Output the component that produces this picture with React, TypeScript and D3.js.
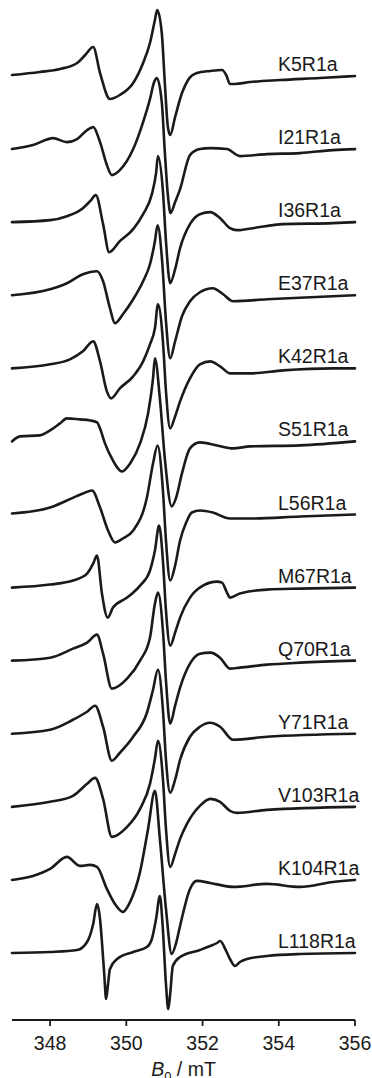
import React from 'react';
import * as d3 from 'd3';

// Spectrum labels (top to bottom)
const NAMES = ['K5R1a','I21R1a','I36R1a','E37R1a','K42R1a','S51R1a','L56R1a','M67R1a','Q70R1a','Y71R1a','V103R1a','K104R1a','L118R1a'];

// [B0 (mT), amplitude (a.u.)]
const K5 = [[347.00,1],[347.73,4],[348.26,7],[348.71,13],[348.92,21],[349.13,29],[349.31,3],[349.57,-23],[349.83,-19],[350.18,-7],[350.44,13],[350.62,33],[350.75,56],[350.81,66],[350.93,43],[351.01,-7],[351.09,-51],[351.15,-59],[351.28,-41],[351.46,-17],[351.62,-4],[351.85,3],[352.20,5],[352.51,6],[352.62,1],[352.72,-8],[352.85,-8],[353.25,-6],[354.03,-4],[355.08,-2],[356.00,0]];
const I21 = [[347.00,0],[347.55,4],[348.08,11],[348.44,7],[348.71,10],[348.97,19],[349.13,22],[349.31,7],[349.49,-16],[349.62,-26],[349.83,-21],[350.18,0],[350.44,27],[350.62,50],[350.73,67],[350.80,71],[350.93,47],[351.01,-3],[351.09,-46],[351.16,-64],[351.28,-53],[351.41,-40],[351.67,-6],[351.93,0],[352.20,1],[352.64,0],[352.98,-7],[353.69,-5],[354.56,-4],[355.42,-1],[356.00,0]];
const I36 = [[347.00,0],[348.00,2],[348.44,6],[348.86,14],[349.05,21],[349.20,27],[349.39,-2],[349.55,-30],[349.83,-19],[350.18,-7],[350.44,8],[350.67,28],[350.78,49],[350.83,66],[350.96,31],[351.04,-19],[351.15,-61],[351.28,-47],[351.41,-26],[351.67,-2],[351.93,8],[352.20,10],[352.46,4],[352.72,-6],[352.90,-8],[353.32,-6],[354.11,-2],[355.42,-1],[356.00,0]];
const E37 = [[347.00,0],[348.00,6],[348.44,12],[348.86,21],[349.23,24],[349.39,14],[349.57,-13],[349.70,-28],[349.91,-19],[350.18,-4],[350.44,14],[350.62,31],[350.75,54],[350.82,70],[350.94,34],[351.04,-26],[351.15,-63],[351.28,-46],[351.46,-21],[351.67,-6],[351.93,3],[352.27,7],[352.54,1],[352.80,-6],[353.69,-4],[355.42,-1],[356.00,0]];
const K42 = [[347.00,0],[348.00,4],[348.52,9],[348.86,17],[349.13,27],[349.31,7],[349.49,-23],[349.60,-30],[349.83,-20],[350.18,-8],[350.44,7],[350.62,24],[350.75,40],[350.83,64],[350.96,27],[351.04,-23],[351.15,-60],[351.28,-48],[351.41,-33],[351.67,-10],[351.93,4],[352.20,7],[352.46,2],[352.72,-5],[353.25,-5],[354.11,-2],[355.42,0],[356.00,0]];
const S51 = [[347.00,0],[347.21,5],[347.73,6],[348.00,11],[348.26,18],[348.44,23],[348.78,22],[349.05,21],[349.23,19],[349.31,13],[349.44,-2],[349.62,-17],[349.89,-30],[350.10,-22],[350.36,-2],[350.57,28],[350.70,63],[350.75,83],[350.88,43],[351.01,-17],[351.19,-65],[351.30,-57],[351.46,-32],[351.67,-7],[351.93,-1],[352.38,-4],[352.80,-7],[353.25,-5],[354.56,-4],[356.00,0]];
const L56 = [[347.00,1],[348.00,7],[348.44,14],[348.86,21],[349.10,24],[349.31,7],[349.52,-16],[349.70,-28],[349.91,-24],[350.18,-16],[350.54,17],[350.70,51],[350.82,69],[350.96,24],[351.04,-26],[351.15,-66],[351.28,-51],[351.41,-26],[351.57,-8],[351.72,2],[351.93,4],[352.27,2],[352.72,-4],[353.25,-4],[354.56,-2],[356.00,0]];
const M67 = [[347.00,0],[348.00,3],[348.60,7],[348.97,14],[349.13,24],[349.23,32],[349.36,-6],[349.51,-30],[349.65,-20],[350.02,-10],[350.36,2],[350.62,17],[350.75,37],[350.86,62],[350.96,27],[351.04,-23],[351.15,-58],[351.28,-45],[351.41,-30],[351.67,-10],[352.01,2],[352.38,6],[352.51,5],[352.64,-5],[352.72,-10],[352.98,-6],[353.69,-2],[354.56,-1],[356.00,0]];
const Q70 = [[347.00,0],[348.00,3],[348.60,12],[348.97,18],[349.23,26],[349.39,7],[349.62,-28],[350.02,-18],[350.36,0],[350.62,23],[350.75,57],[350.83,68],[350.96,30],[351.04,-20],[351.15,-63],[351.28,-45],[351.41,-27],[351.67,-3],[351.93,7],[352.20,8],[352.46,3],[352.72,-8],[352.98,-7],[353.69,-4],[354.56,-2],[356.00,0]];
const Y71 = [[347.00,0],[348.00,4],[348.60,14],[348.97,22],[349.18,28],[349.39,7],[349.62,-27],[349.83,-19],[350.18,-3],[350.54,21],[350.70,44],[350.83,64],[350.96,24],[351.04,-26],[351.15,-59],[351.28,-46],[351.41,-26],[351.67,-3],[351.93,7],[352.20,11],[352.46,7],[352.80,-6],[353.69,-3],[356.00,0]];
const V103 = [[347.00,0],[348.00,5],[348.60,11],[348.97,23],[349.18,29],[349.39,8],[349.62,-30],[350.02,-20],[350.36,-2],[350.62,23],[350.75,48],[350.83,66],[350.96,28],[351.04,-22],[351.15,-60],[351.28,-47],[351.41,-32],[351.59,-17],[351.93,1],[352.20,8],[352.46,5],[352.72,-4],[352.90,-6],[353.69,-3],[356.00,0]];
const K104 = [[347.00,0],[347.55,4],[348.00,11],[348.44,23],[348.78,14],[349.05,15],[349.23,13],[349.49,-9],[349.70,-24],[349.91,-32],[350.10,-22],[350.36,8],[350.57,51],[350.75,89],[350.88,41],[351.04,-29],[351.19,-74],[351.30,-64],[351.41,-46],[351.67,-9],[351.85,-1],[352.20,-3],[352.80,-7],[353.69,-4],[354.56,-7],[355.42,-2],[356.00,0]];
const L118 = [[347.00,0],[348.00,1],[348.71,3],[348.97,11],[349.13,29],[349.23,49],[349.31,34],[349.36,11],[349.42,-21],[349.47,-46],[349.52,-31],[349.57,-16],[349.76,-6],[350.18,1],[350.54,6],[350.67,14],[350.78,34],[350.88,57],[350.95,29],[351.04,-31],[351.10,-56],[351.15,-41],[351.22,-13],[351.41,-4],[351.93,3],[352.20,7],[352.38,10],[352.46,12],[352.62,2],[352.72,-6],[352.85,-13],[352.98,-9],[353.17,-6],[353.69,-3],[354.56,-1],[356.00,0]];

const SERIES = [K5, I21, I36, E37, K42, S51, L56, M67, Q70, Y71, V103, K104, L118];

const TICKS = [348, 350, 352, 354, 356];
const X_DOMAIN = [347, 356];

const FONT = "'Liberation Sans', Arial, Helvetica, sans-serif";
const INK = '#1a1a1a';

export default function App() {
  const W = 372, H = 1078;
  const x = d3.scaleLinear().domain(X_DOMAIN).range([12, 355]);
  const off = d3.scalePoint().domain(NAMES).range([76, 953]);
  const amp = d3.scaleLinear().domain([-100, 100]).range([100, -100]);
  const line = d3.line().x((d: any) => x(d[0])).y((d: any) => amp(d[1])).curve(d3.curveMonotoneX);
  const axisY = 1020;

  return (
    <svg width={W} height={H} style={{ position: 'absolute', left: 0, top: 0, background: '#fff' }}>
      <rect width={W} height={H} fill="#fff" />
      {SERIES.map((s, i) => (
        <g key={NAMES[i]} transform={`translate(0,${off(NAMES[i])})`}>
          <path d={line(s as any) || ''} fill="none" stroke={INK} strokeWidth={2.6} strokeLinejoin="round" strokeLinecap="round" />
          <text x={278} y={-5} fontFamily={FONT} fontSize={19.5} fill={INK}>{NAMES[i]}</text>
        </g>
      ))}
      <line x1={x(X_DOMAIN[0])} x2={x(X_DOMAIN[1])} y1={axisY} y2={axisY} stroke={INK} strokeWidth={1.8} />
      {TICKS.map(t => (
        <g key={t} transform={`translate(${x(t)},${axisY})`}>
          <line y1={0} y2={6} stroke={INK} strokeWidth={1.8} />
          <text y={30} textAnchor="middle" fontFamily={FONT} fontSize={19.5} fill={INK}>{t}</text>
        </g>
      ))}
      <text x={(x(X_DOMAIN[0]) + x(X_DOMAIN[1])) / 2} y={1076} textAnchor="middle" fontFamily={FONT} fontSize={19.5} fill={INK}>
        <tspan fontStyle="italic">B</tspan>
        <tspan fontSize={13} dy={5}>0</tspan>
        <tspan dy={-5}> / mT</tspan>
      </text>
    </svg>
  );
}
